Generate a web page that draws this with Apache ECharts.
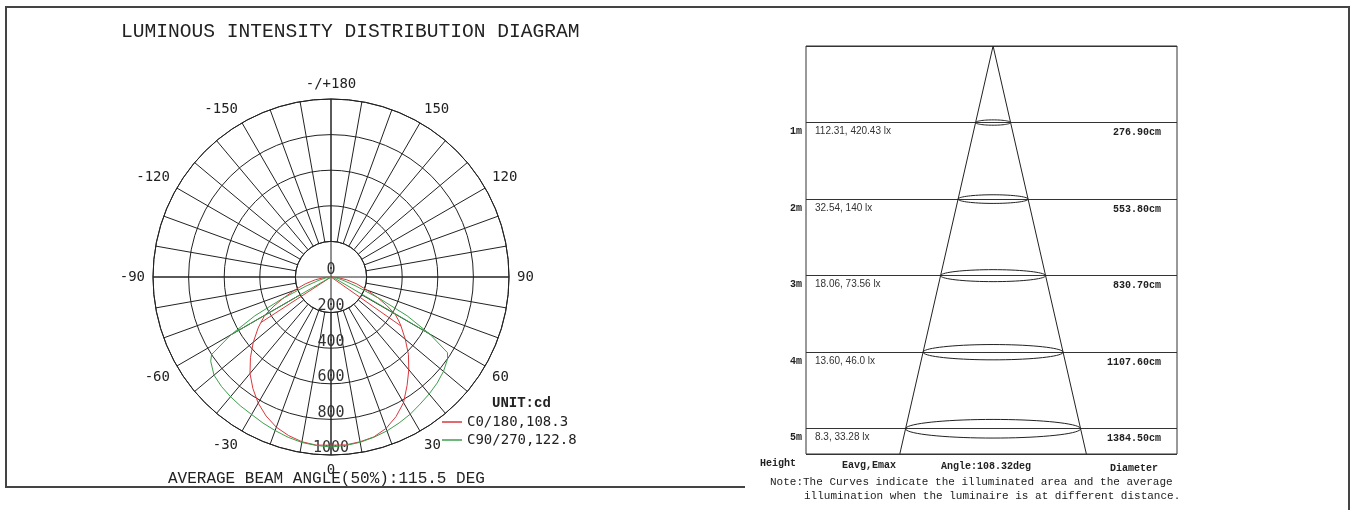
<!DOCTYPE html>
<html><head><meta charset="utf-8">
<script src="https://cdn.jsdelivr.net/npm/echarts@6/dist/echarts.min.js"></script>
<style>html,body{margin:0;padding:0;background:#fff;}#c{width:1351px;height:510px;}</style>
</head><body><div id="c"></div>
<script>
// ---------- polar (luminous intensity) data ----------
const ANGLES = [0,5,10,15,20,25,30,35,40,45,50,55,57,60,63,66,70,75,80,85,90];
const C0   = [945,947,940,930,905,865,815,745,680,615,545,480,455,415,350,290,215,150,90,40,0];
const C180 = [945,948,940,922,898,862,818,765,708,640,570,500,470,430,360,295,220,150,90,40,0];
const C90  = [955,950,943,932,920,905,890,872,858,843,825,800,780,640,480,300,150,70,30,10,0];
const C270 = [955,950,944,932,918,905,892,885,878,870,858,825,800,650,480,300,150,70,30,10,0];
const RED_CHORD = [57, 55];     // [left, right] angle of inner line
const GREEN_CHORD = [60, 60];
const BEAM = [108.3, 122.8];
const RING_TICKS = [0, 200, 400, 600, 800, 1000];

// ---------- illuminance cone data ----------
const HEIGHTS = [1, 2, 3, 4, 5];
const EAVG = ['112.31', '32.54', '18.06', '13.60', '8.3'];
const EMAX = ['420.43', '140', '73.56', '46.0', '33.28'];
const DIAMETER = [276.90, 553.80, 830.70, 1107.60, 1384.50];
const BEAM_ANGLE = 108.32;
const YMAX = 5.33;

function loop(left, right, chord) {
  const pts = [];
  const iL = ANGLES.indexOf(chord[0]);
  pts.push([left[iL], 360 - chord[0]]);
  for (let i = ANGLES.length - 1; i >= 0; i--) pts.push([left[i], (360 - ANGLES[i]) % 360]);
  for (let i = 1; i < ANGLES.length; i++) pts.push([right[i], ANGLES[i]]);
  const iR = ANGLES.indexOf(chord[1]);
  pts.push([right[iR], chord[1]]);
  return pts;
}

const coneData = [];
coneData.push([-DIAMETER[4] / 2 * YMAX / 5, YMAX]);
for (let i = HEIGHTS.length - 1; i >= 0; i--) coneData.push([-DIAMETER[i] / 2, HEIGHTS[i]]);
coneData.push([0, 0]);
for (let i = 0; i < HEIGHTS.length; i++) coneData.push([DIAMETER[i] / 2, HEIGHTS[i]]);
coneData.push([DIAMETER[4] / 2 * YMAX / 5, YMAX]);

const RED = '#d8383c', GREEN = '#3d9f4c', INK = '#222';
const MONO = '"DejaVu Sans Mono"';
const COUR = '"Liberation Mono"';

const chart = echarts.init(document.getElementById('c'), null, {renderer: 'canvas'});
const isRow = v => Number.isInteger(v) && v >= 1 && v <= 5;

chart.setOption({
  animation: false,
  backgroundColor: '#fff',
  polar: [
    {center: [331, 277], radius: [35.6, 178]},
    {center: [331, 277], radius: [0, 178]}
  ],
  angleAxis: [
    {polarIndex: 0, type: 'value', min: -180, max: 180, interval: 10, startAngle: 90, clockwise: false,
     axisLine: {show: true, lineStyle: {color: INK, width: 1}}, axisTick: {show: false},
     axisLabel: {show: true, margin: 8, color: INK, fontFamily: MONO, fontSize: 14,
       formatter: v => v === -180 ? '-/+180' : (v === 180 ? '' : (v % 30 === 0 ? String(v) : ''))},
     splitLine: {show: true, lineStyle: {color: INK, width: 1}}},
    {polarIndex: 1, type: 'value', min: 0, max: 360, interval: 90, startAngle: -90, clockwise: false,
     axisLine: {show: false}, axisTick: {show: false}, axisLabel: {show: false},
     splitLine: {show: true, lineStyle: {color: INK, width: 1}}}
  ],
  radiusAxis: [
    {polarIndex: 0, type: 'value', min: 200, max: 1000, interval: 200,
     axisLine: {show: false}, axisTick: {show: false}, axisLabel: {show: false},
     splitLine: {show: true, lineStyle: {color: INK, width: 1}}},
    {polarIndex: 1, type: 'value', min: RING_TICKS[0], max: RING_TICKS[RING_TICKS.length - 1], interval: 200,
     axisLine: {show: false}, axisTick: {show: false}, splitLine: {show: false},
     axisLabel: {show: true, margin: 0, align: 'center', verticalAlign: 'bottom', lineHeight: 13,
       color: '#333', fontFamily: MONO, fontSize: 15, formatter: v => String(v)}}
  ],
  grid: [{left: 806, top: 46, width: 371, height: 408, show: true, borderColor: '#333', borderWidth: 1, backgroundColor: 'transparent'}],
  xAxis: [{gridIndex: 0, type: 'value', min: -1480, max: 1455, show: false}],
  yAxis: [
    {gridIndex: 0, type: 'value', inverse: true, min: 0, max: YMAX, interval: 1, position: 'left',
     axisLine: {show: false}, axisTick: {show: false},
     splitLine: {show: true, lineStyle: {color: '#333', width: 1}},
     axisLabel: {margin: 4, align: 'right', verticalAlign: 'top', lineHeight: 18,
       color: INK, fontFamily: COUR, fontWeight: 'bold', fontSize: 10,
       formatter: v => isRow(v) ? v + 'm' : ''}},
    {gridIndex: 0, type: 'value', inverse: true, min: 0, max: YMAX, interval: 1, position: 'left',
     axisLine: {show: false}, axisTick: {show: false}, splitLine: {show: false},
     axisLabel: {inside: true, margin: 9, align: 'left', verticalAlign: 'top', lineHeight: 18,
       color: '#333', fontFamily: '"Liberation Sans"', fontSize: 10,
       formatter: v => isRow(v) ? EAVG[v - 1] + ', ' + EMAX[v - 1] + ' lx' : ''}},
    {gridIndex: 0, type: 'value', inverse: true, min: 0, max: YMAX, interval: 1, position: 'right',
     axisLine: {show: false}, axisTick: {show: false}, splitLine: {show: false},
     axisLabel: {inside: true, margin: 16, align: 'right', verticalAlign: 'top', lineHeight: 20,
       color: INK, fontFamily: COUR, fontWeight: 'bold', fontSize: 10,
       formatter: v => isRow(v) ? DIAMETER[v - 1].toFixed(2) + 'cm' : ''}}
  ],
  legend: {
    data: ['C0/180,' + BEAM[0], 'C90/270,' + BEAM[1]],
    left: 442, top: 414, orient: 'vertical', icon: 'rect', itemWidth: 20, itemHeight: 1.5, itemGap: 2,
    padding: 0, selectedMode: false,
    textStyle: {fontFamily: MONO, fontSize: 14, color: INK, lineHeight: 16, padding: [0, 0, 0, 0]}
  },
  series: [
    {name: 'C0/180,' + BEAM[0], type: 'line', coordinateSystem: 'polar', polarIndex: 1,
     data: loop(C180, C0, RED_CHORD), symbol: 'none', z: 5,
     lineStyle: {color: RED, width: 1}, itemStyle: {color: RED}},
    {name: 'C90/270,' + BEAM[1], type: 'line', coordinateSystem: 'polar', polarIndex: 1,
     data: loop(C270, C90, GREEN_CHORD), symbol: 'none', z: 5,
     lineStyle: {color: GREEN, width: 1}, itemStyle: {color: GREEN}},
    {name: 'cone', type: 'line', xAxisIndex: 0, yAxisIndex: 0, data: coneData, symbol: 'none',
     lineStyle: {color: INK, width: 1}, silent: true},
    {name: 'rings', type: 'custom', xAxisIndex: 0, yAxisIndex: 0,
     data: HEIGHTS.map((h, i) => [0, h, DIAMETER[i]]),
     renderItem: (params, api) => {
       const c = api.coord([api.value(0), api.value(1)]);
       const rx = api.size([api.value(2) / 2, 0])[0];
       const ry = rx * 0.095 + 1;
       const points = [];
       for (let k = 0; k <= 72; k++) {
         const a = k / 72 * Math.PI * 2;
         points.push([c[0] + rx * Math.cos(a), c[1] + ry * Math.sin(a)]);
       }
       return {type: 'polygon', shape: {points}, style: {fill: 'none', stroke: INK, lineWidth: 1}};
     }}
  ],
  graphic: [
    {type: 'polyline', shape: {points: [[745, 487], [6, 487], [6, 7], [1349, 7], [1349, 510]]},
     style: {stroke: '#444', lineWidth: 2, fill: 'none'}},
    {type: 'text', x: 121, y: 32, style: {text: 'LUMINOUS INTENSITY DISTRIBUTION DIAGRAM', font: 'normal 19.6px ' + COUR, fill: INK, align: 'left', verticalAlign: 'middle'}},
    {type: 'text', x: 168, y: 479, style: {text: 'AVERAGE BEAM ANGLE(50%):115.5 DEG', font: 'normal 16px ' + COUR, fill: INK, align: 'left', verticalAlign: 'middle'}},
    {type: 'text', x: 492, y: 403, style: {text: 'UNIT:cd', font: 'bold 14px ' + COUR, fill: INK, align: 'left', verticalAlign: 'middle'}},
    {type: 'text', x: 778, y: 463, style: {text: 'Height', font: 'bold 10px ' + COUR, fill: INK, align: 'center', verticalAlign: 'middle'}},
    {type: 'text', x: 869, y: 465, style: {text: 'Eavg,Emax', font: 'bold 10px ' + COUR, fill: INK, align: 'center', verticalAlign: 'middle'}},
    {type: 'text', x: 986, y: 466, style: {text: 'Angle:' + BEAM_ANGLE + 'deg', font: 'bold 10px ' + COUR, fill: INK, align: 'center', verticalAlign: 'middle'}},
    {type: 'text', x: 1134, y: 468, style: {text: 'Diameter', font: 'bold 10px ' + COUR, fill: INK, align: 'center', verticalAlign: 'middle'}},
    {type: 'text', x: 770, y: 482, style: {text: 'Note:The Curves indicate the illuminated area and the average', font: 'normal 11px ' + COUR, fill: INK, align: 'left', verticalAlign: 'middle'}},
    {type: 'text', x: 804, y: 496, style: {text: 'illumination when the luminaire is at different distance.', font: 'normal 11px ' + COUR, fill: INK, align: 'left', verticalAlign: 'middle'}}
  ]
});
</script></body></html>
